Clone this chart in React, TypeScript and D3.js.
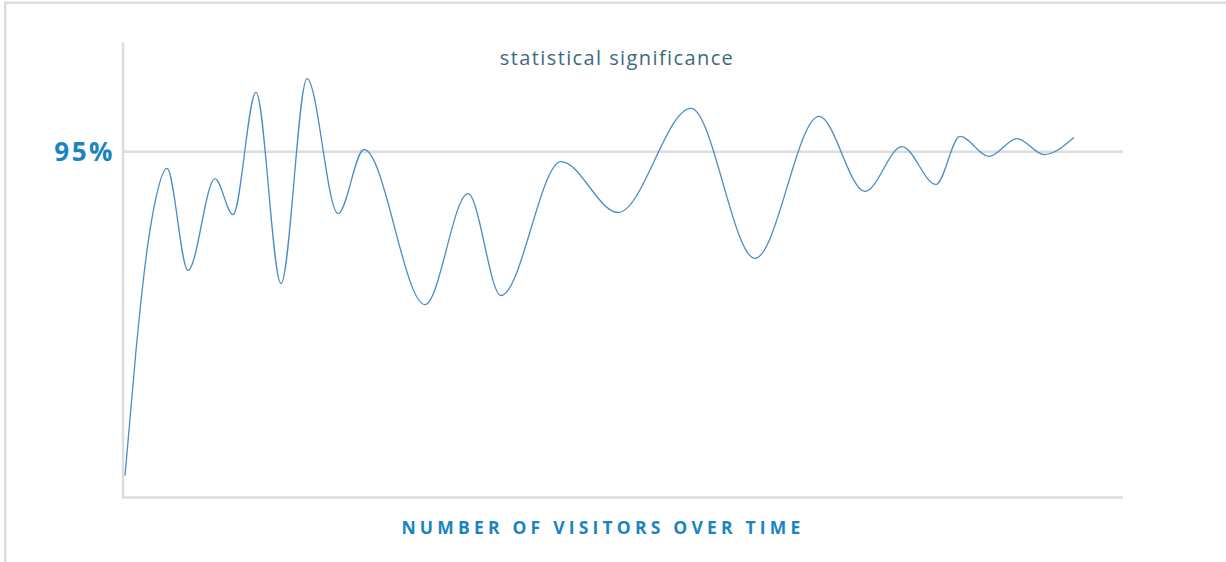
import React, { useRef, useEffect } from 'react';
import * as d3 from 'd3';

// visitors (x) and significance % (y): early rise, then the turning points
const visitors = [2, 13, 24, 31, 44, 65, 92, 110, 133, 158, 184, 215, 241, 302, 345, 378, 438, 495, 568, 632, 696, 742, 779, 813, 837, 866, 894, 921, 951];
const significance = [6.0, 40.4, 67.9, 79.7, 90.4, 62.4, 87.6, 77.7, 111.3, 58.8, 115.1, 78.0, 95.6, 53.0, 83.5, 55.5, 92.3, 78.3, 106.9, 65.7, 104.7, 84.1, 96.4, 86.0, 99.2, 93.7, 98.6, 94.2, 98.9];
const threshold = 95;
const thresholdLabel = '95%';
const title = 'statistical significance';
const xLabel = 'NUMBER OF VISITORS OVER TIME';

const App = () => {
  const svgRef = useRef<SVGSVGElement>(null);

  useEffect(() => {
    const W = 1226;
    const H = 562;
    const svg = d3.select(svgRef.current).attr('width', W).attr('height', H);
    svg.selectAll('*').remove();

    const x = d3.scaleLinear().domain([0, 1000]).range([123, 1123]);
    const y = d3.scaleLinear().domain([0, 125]).range([497.5, 42.5]);
    const grey = '#dcdce1';
    const blue = '#1a84bf';

    // outer frame (only left + top visible)
    svg.append('path')
      .attr('d', `M5.3,${H} V2.8 H${W}`)
      .attr('fill', 'none')
      .attr('stroke', grey)
      .attr('stroke-width', 2.5);

    // axes
    svg.append('path')
      .attr('d', `M${x(0)},${y(125)} V${y(0)} H${x(1000)}`)
      .attr('fill', 'none')
      .attr('stroke', grey)
      .attr('stroke-width', 2.5);

    // 95% line
    svg.append('line')
      .attr('x1', x(0))
      .attr('x2', x(1000))
      .attr('y1', y(threshold))
      .attr('y2', y(threshold))
      .attr('stroke', grey)
      .attr('stroke-width', 2.5);

    svg.append('text')
      .attr('x', 115)
      .attr('y', y(threshold) + 9.5)
      .attr('text-anchor', 'end')
      .style('font-family', '"Open Sans", sans-serif')
      .style('font-weight', 700)
      .style('font-size', '26px')
      .style('letter-spacing', '2.5px')
      .attr('fill', blue)
      .text(thresholdLabel);

    const data = visitors.map((v, i) => ({ v, s: significance[i] }));
    const line = d3.line<{ v: number; s: number }>()
      .x(d => x(d.v))
      .y(d => y(d.s))
      .curve(d3.curveMonotoneX);

    svg.append('path')
      .datum(data)
      .attr('d', line)
      .attr('fill', 'none')
      .attr('stroke', '#4a8dc6')
      .attr('stroke-width', 1.3);

    svg.append('text')
      .attr('x', 617)
      .attr('y', 65)
      .attr('text-anchor', 'middle')
      .style('font-family', '"Open Sans", sans-serif')
      .style('font-weight', 400)
      .style('font-size', '20px')
      .style('letter-spacing', '1.4px')
      .attr('fill', '#3b6a80')
      .text(title);

    svg.append('text')
      .attr('x', 603)
      .attr('y', 534)
      .attr('text-anchor', 'middle')
      .style('font-family', '"Open Sans", sans-serif')
      .style('font-weight', 700)
      .style('font-size', '17.5px')
      .style('letter-spacing', '4.2px')
      .attr('fill', blue)
      .text(xLabel);
  }, []);

  return <svg ref={svgRef} style={{ position: 'absolute', left: 0, top: 0, background: '#fff' }}></svg>;
};

export default App;
